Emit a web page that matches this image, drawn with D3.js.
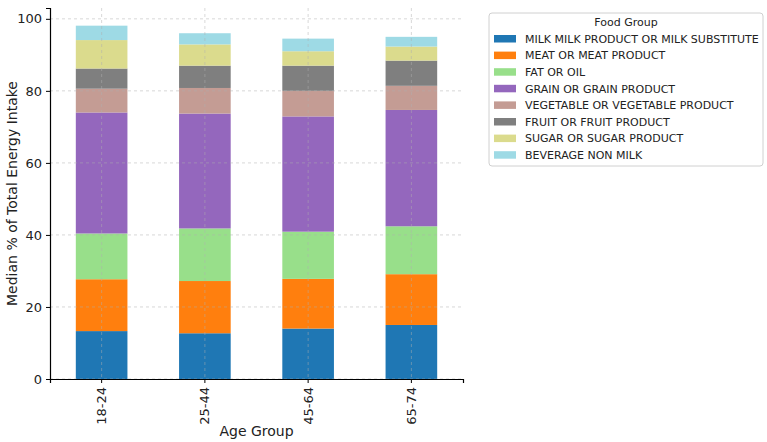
<!DOCTYPE html>
<html>
<head>
<meta charset="utf-8">
<script src="https://cdn.jsdelivr.net/npm/d3@7"></script>
<style>
body { margin: 0; background: #fff; }
svg { font-family: "DejaVu Sans", sans-serif; }
.grid line { stroke: #b0b0b0; stroke-dasharray: 3,3; stroke-width: 0.8; opacity: 0.6; }
</style>
</head>
<body>
<div class="main"></div>
<script>
// data
var ageGroups = ["18-24", "25-44", "45-64", "65-74"];
var foodGroups = ["MILK MILK PRODUCT OR MILK SUBSTITUTE", "MEAT OR MEAT PRODUCT", "FAT OR OIL",
  "GRAIN OR GRAIN PRODUCT", "VEGETABLE OR VEGETABLE PRODUCT", "FRUIT OR FRUIT PRODUCT",
  "SUGAR OR SUGAR PRODUCT", "BEVERAGE NON MILK"];
var milk = [13.3, 12.7, 14.0, 15.0];
var meat = [14.4, 14.5, 13.8, 14.1];
var fat = [12.7, 14.6, 13.1, 13.3];
var grain = [33.6, 31.9, 32.0, 32.3];
var vegetable = [6.6, 7.1, 7.1, 6.7];
var fruit = [5.6, 6.2, 7.0, 7.0];
var sugar = [7.9, 5.9, 4.0, 3.9];
var beverage = [4.0, 3.1, 3.5, 2.7];
var yTicks = [0, 20, 40, 60, 80, 100];
var colors = ["#1f77b4", "#ff7f0e", "#98df8a", "#9467bd", "#c49c94", "#7f7f7f", "#dbdb8d", "#9edae5"];

var series = [milk, meat, fat, grain, vegetable, fruit, sugar, beverage];
var rows = ageGroups.map(function(a, i) {
  var r = {age: a};
  foodGroups.forEach(function(f, j) { r[f] = series[j][i]; });
  return r;
});
var stacked = d3.stack().keys(foodGroups)(rows);

var margin = {top: 8, right: 304, bottom: 63, left: 50},
  width = 767 - margin.left - margin.right,
  height = 442 - margin.top - margin.bottom;

var svg = d3.select(".main").append("svg")
  .attr("width", 767).attr("height", 442)
  .append("g")
  .attr("transform", "translate(" + margin.left + "," + margin.top + ")");

var x = d3.scaleBand().domain(ageGroups).range([0, width]).paddingInner(0.5).paddingOuter(0.25);
var ymax = d3.max(stacked[stacked.length - 1], function(d) { return d[1]; }) * 1.05;
var y = d3.scaleLinear().domain([0, ymax]).range([height, 0]);

// bars
svg.selectAll(".layer")
  .data(stacked)
  .enter().append("g")
  .attr("fill", function(d, i) { return colors[i]; })
  .selectAll("rect")
  .data(function(d) { return d; })
  .enter().append("rect")
  .attr("x", function(d) { return x(d.data.age); })
  .attr("width", x.bandwidth())
  .attr("y", function(d) { return y(d[1]); })
  .attr("height", function(d) { return y(d[0]) - y(d[1]); });

// grid
var grid = svg.append("g").attr("class", "grid");
grid.selectAll(".h").data(yTicks).enter().append("line")
  .attr("x1", 0).attr("x2", width)
  .attr("y1", function(d) { return y(d); }).attr("y2", function(d) { return y(d); });
grid.selectAll(".v").data(ageGroups).enter().append("line")
  .attr("y1", 0).attr("y2", height)
  .attr("x1", function(d) { return x(d) + x.bandwidth() / 2; })
  .attr("x2", function(d) { return x(d) + x.bandwidth() / 2; });

// axes
var yAxis = svg.append("g").call(d3.axisLeft(y).tickValues(yTicks).tickSizeOuter(0).tickSize(4).tickPadding(4));
var xAxis = svg.append("g").attr("transform", "translate(0," + height + ")")
  .call(d3.axisBottom(x).tickSizeOuter(0).tickSize(4));
[yAxis, xAxis].forEach(function(a) {
  a.select(".domain").attr("stroke", "#000").attr("stroke-width", 1.2);
  a.selectAll("text").attr("font-size", 13).attr("font-family", "DejaVu Sans").attr("fill", "#222");
});
xAxis.selectAll("text")
  .attr("transform", "rotate(-90)")
  .attr("text-anchor", "end")
  .attr("x", -8).attr("y", 0).attr("dy", "0.35em");

svg.append("text")
  .attr("x", width / 2).attr("y", height + 57)
  .attr("text-anchor", "middle").attr("font-size", 14).attr("fill", "#222")
  .text("Age Group");
svg.append("text")
  .attr("transform", "rotate(-90)")
  .attr("x", -height / 2).attr("y", -33)
  .attr("text-anchor", "middle").attr("font-size", 14).attr("fill", "#222")
  .text("Median % of Total Energy Intake");

// legend
var legend = d3.select("svg").append("g").attr("transform", "translate(489,13)");
legend.append("rect")
  .attr("width", 274).attr("height", 153).attr("rx", 3)
  .attr("fill", "#fff").attr("stroke", "#d0d0d0");
legend.append("text")
  .attr("x", 137).attr("y", 13).attr("text-anchor", "middle")
  .attr("font-size", 11).attr("fill", "#222").text("Food Group");
var item = legend.selectAll(".item")
  .data(foodGroups)
  .enter().append("g")
  .attr("transform", function(d, i) { return "translate(5," + (22 + i * 16.6) + ")"; });
item.append("rect").attr("width", 22).attr("height", 7.5)
  .attr("fill", function(d, i) { return colors[i]; });
item.append("text").attr("x", 31).attr("y", 4).attr("dy", "0.35em")
  .attr("font-size", 11).attr("fill", "#222")
  .text(function(d) { return d; });
</script>
</body>
</html>
